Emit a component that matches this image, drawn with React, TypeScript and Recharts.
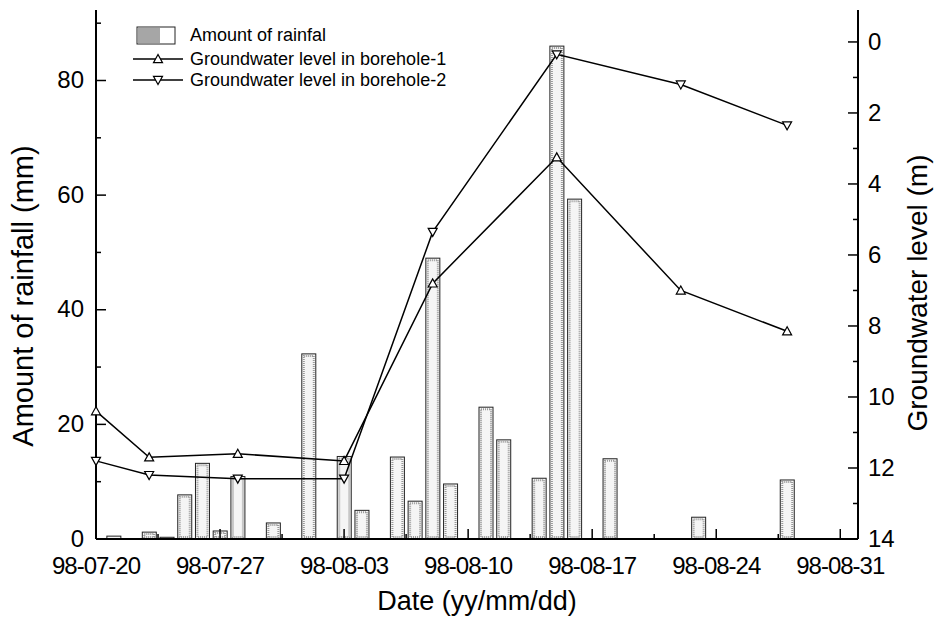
import React from "react";
import { ComposedChart, Bar, Line, XAxis, YAxis } from "recharts";

const FONT = '"Liberation Sans", Arial, Helvetica, sans-serif';

// Rainfall, days counted from 98-07-20
const rainDays = [1, 3, 4, 5, 6, 7, 8, 10, 12, 14, 15, 17, 18, 19, 20, 22, 23, 25, 26, 27, 29, 34, 39];
const rainfall = [0.5, 1.2, 0.3, 7.7, 13.2, 1.4, 10.9, 2.8, 32.3, 14.4, 5.0, 14.3, 6.6, 49.0, 9.6, 23.0, 17.3, 10.6, 86.0, 59.3, 14.0, 3.8, 10.3];

// Groundwater level (m below surface) in the two boreholes
const wellDays = [0, 3, 8, 14, 19, 26, 33, 39];
const borehole1 = [10.4, 11.7, 11.6, 11.8, 6.8, 3.25, 7.0, 8.15];
const borehole2 = [11.8, 12.2, 12.3, 12.3, 5.35, 0.35, 1.2, 2.35];

// Axis ticks
const dateTicks = [0, 7, 14, 21, 28, 35, 42];
const dateLabels = ["98-07-20", "98-07-27", "98-08-03", "98-08-10", "98-08-17", "98-08-24", "98-08-31"];
const dateMinor = [3.5, 10.5, 17.5, 24.5, 31.5, 38.5];
const rainTicks = [0, 20, 40, 60, 80];
const rainMinor = [10, 30, 50, 70, 90];
const levelTicks = [0, 2, 4, 6, 8, 10, 12, 14];
const levelMinor = [1, 3, 5, 7, 9, 11, 13];

const allDays = Array.from(new Set([...rainDays, ...wellDays])).sort((a, b) => a - b);
const rows = allDays.map((day) => {
  const r = rainDays.indexOf(day);
  const w = wellDays.indexOf(day);
  return {
    day,
    rain: r >= 0 ? rainfall[r] : null,
    b1: w >= 0 ? borehole1[w] : null,
    b2: w >= 0 ? borehole2[w] : null,
  };
});

const DateTick = (p: any) => {
  const { x, y, payload } = p;
  const i = dateTicks.indexOf(payload.value);
  const major = i >= 0;
  return (
    <g>
      <line x1={x} x2={x} y1={y} y2={y - (major ? 10 : 5)} stroke="#000" strokeWidth={1.5} />
      {major && (
        <text x={x} y={y + 35} textAnchor="middle" fontSize={24} letterSpacing={-1} fontFamily={FONT} fill="#000">
          {dateLabels[i]}
        </text>
      )}
    </g>
  );
};

const RainTick = (p: any) => {
  const { x, y, payload } = p;
  const major = rainTicks.includes(payload.value);
  return (
    <g>
      <line x1={x} x2={x + (major ? 10 : 5)} y1={y} y2={y} stroke="#000" strokeWidth={1.5} />
      {major && (
        <text x={x - 12} y={y} dy="0.32em" textAnchor="end" fontSize={24} fontFamily={FONT} fill="#000">
          {payload.value}
        </text>
      )}
    </g>
  );
};

const LevelTick = (p: any) => {
  const { x, y, payload } = p;
  const major = levelTicks.includes(payload.value);
  return (
    <g>
      <line x1={x} x2={x - (major ? 10 : 5)} y1={y} y2={y} stroke="#000" strokeWidth={1.5} />
      {major && (
        <text x={x + 10} y={y} dy="0.32em" textAnchor="start" fontSize={24} fontFamily={FONT} fill="#000">
          {payload.value}
        </text>
      )}
    </g>
  );
};

// stippled rainfall bar: thin black outline with a grey dotted inner border
const RainBar = (p: any) => {
  const { x, y, width, height } = p;
  if (!height || height <= 0) return null;
  return (
    <g>
      <rect x={x} y={y} width={width} height={height} fill="#f5f5f5" stroke="#222" strokeWidth={1} />
      {height > 4 && (
        <rect
          x={x + 2}
          y={y + 2}
          width={width - 4}
          height={height - 4}
          fill="none"
          stroke="#999"
          strokeWidth={2}
          strokeDasharray="1 1"
        />
      )}
    </g>
  );
};

const Tri = ({ cx, cy, up }: { cx: number; cy: number; up: boolean }) => {
  if (cx == null || cy == null) return null;
  const s = 4.5;
  const pts = up
    ? `${cx},${cy - s} ${cx - s},${cy + s * 0.8} ${cx + s},${cy + s * 0.8}`
    : `${cx},${cy + s} ${cx - s},${cy - s * 0.8} ${cx + s},${cy - s * 0.8}`;
  return <polygon points={pts} fill="#fff" stroke="#000" strokeWidth={1.2} />;
};

const UpDot = (p: any) => <Tri key={`u${p.index}`} cx={p.cx} cy={p.cy} up />;
const DownDot = (p: any) => <Tri key={`d${p.index}`} cx={p.cx} cy={p.cy} up={false} />;

export default function App() {
  return (
    <div style={{ position: "absolute", left: 0, top: 0, width: 935, height: 625, background: "#fff" }}>
      <ComposedChart width={935} height={625} data={rows} margin={{ top: 10, right: 0, bottom: 0, left: 0 }}>
        <XAxis
          dataKey="day"
          type="number"
          domain={[0, 43]}
          ticks={[...dateTicks, ...dateMinor].sort((a, b) => a - b)}
          interval={0}
          height={86}
          tickSize={0}
          tickMargin={0}
          tick={DateTick}
          tickLine={false}
          axisLine={{ stroke: "#000", strokeWidth: 2 }}
        />
        <XAxis
          xAxisId="top"
          dataKey="day"
          type="number"
          orientation="top"
          domain={[0, 43]}
          height={0}
          tick={false}
          tickLine={false}
          axisLine={{ stroke: "#000", strokeWidth: 2 }}
        />
        <YAxis
          yAxisId="rain"
          type="number"
          domain={[0, 92.3]}
          ticks={[...rainTicks, ...rainMinor].sort((a, b) => a - b)}
          interval={0}
          width={96}
          tickSize={0}
          tickMargin={0}
          tick={RainTick}
          tickLine={false}
          axisLine={{ stroke: "#000", strokeWidth: 2 }}
        />
        <YAxis
          yAxisId="level"
          orientation="right"
          type="number"
          reversed
          domain={[-0.9, 14]}
          ticks={[...levelTicks, ...levelMinor].sort((a, b) => a - b)}
          interval={0}
          width={77}
          tickSize={0}
          tickMargin={0}
          tick={LevelTick}
          tickLine={false}
          axisLine={{ stroke: "#000", strokeWidth: 2 }}
        />
        <Bar yAxisId="rain" dataKey="rain" barSize={14} shape={RainBar} isAnimationActive={false} />
        <Line
          yAxisId="level"
          dataKey="b1"
          type="linear"
          stroke="#000"
          strokeWidth={1.5}
          connectNulls
          dot={UpDot}
          activeDot={false}
          isAnimationActive={false}
        />
        <Line
          yAxisId="level"
          dataKey="b2"
          type="linear"
          stroke="#000"
          strokeWidth={1.5}
          connectNulls
          dot={DownDot}
          activeDot={false}
          isAnimationActive={false}
        />
      </ComposedChart>

      {/* axis titles and legend */}
      <svg
        width={935}
        height={625}
        style={{ position: "absolute", left: 0, top: 0, pointerEvents: "none" }}
        fontFamily={FONT}
      >
        <text x={33} y={296} transform="rotate(-90 33 296)" textAnchor="middle" fontSize={29} fill="#000">
          Amount of rainfall (mm)
        </text>
        <text x={927} y={293} transform="rotate(-90 927 293)" textAnchor="middle" fontSize={28} fill="#000">
          Groundwater level (m)
        </text>
        <text x={477} y={610} textAnchor="middle" fontSize={27} fill="#000">
          Date (yy/mm/dd)
        </text>

        <rect x={137} y={27} width={38} height={17} fill="#fff" stroke="#222" strokeWidth={1} />
        <rect x={138} y={28} width={22} height={15} fill="#a6a6a6" />
        <text x={190} y={41} fontSize={18} fill="#000">Amount of rainfal</text>

        <line x1={133} x2={183} y1={59} y2={59} stroke="#000" strokeWidth={1.5} />
        <Tri cx={158} cy={59} up />
        <text x={190} y={65} fontSize={18} fill="#000">Groundwater level in borehole-1</text>

        <line x1={133} x2={183} y1={80} y2={80} stroke="#000" strokeWidth={1.5} />
        <Tri cx={158} cy={80} up={false} />
        <text x={190} y={86} fontSize={18} fill="#000">Groundwater level in borehole-2</text>
      </svg>
    </div>
  );
}
